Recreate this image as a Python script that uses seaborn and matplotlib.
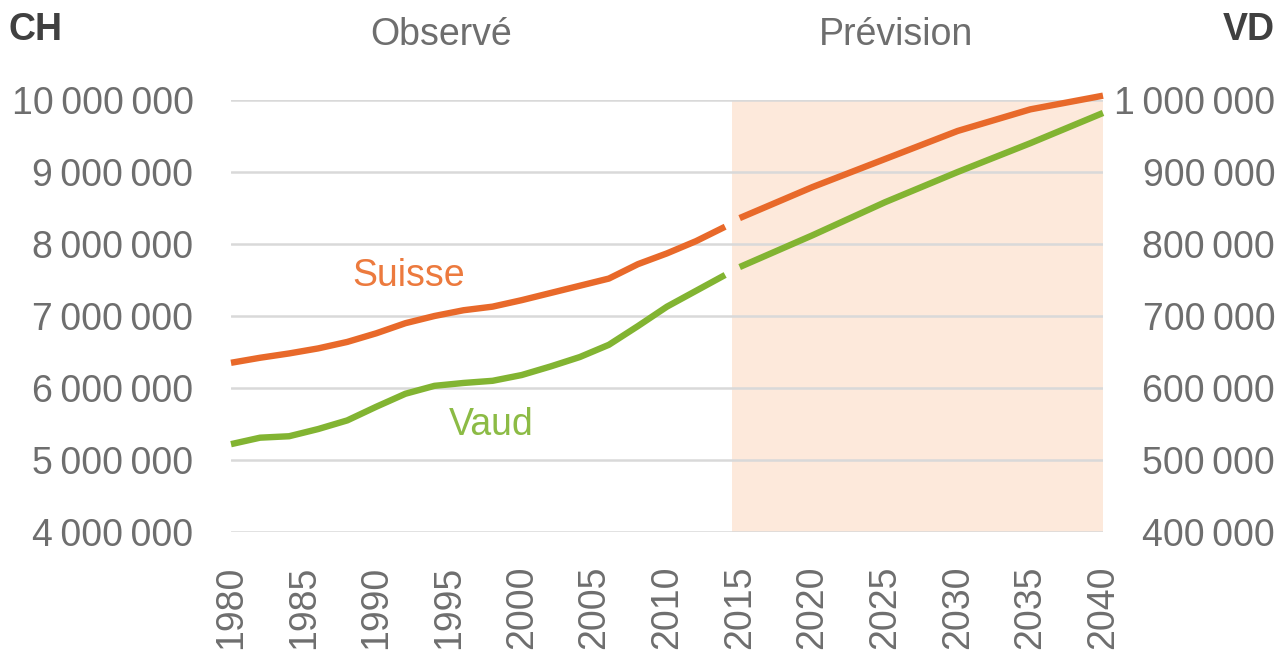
import matplotlib
matplotlib.use("Agg")
import matplotlib.pyplot as plt
from matplotlib.ticker import FuncFormatter, FixedLocator
import seaborn as sns
import pandas as pd

# ---- data -------------------------------------------------------------
obs_years = [1980, 1982, 1984, 1986, 1988, 1990, 1992, 1994, 1996, 1998,
             2000, 2002, 2004, 2006, 2008, 2010, 2012, 2014]
ch_obs = [6350000, 6420000, 6480000, 6550000, 6640000, 6760000, 6900000,
          7000000, 7080000, 7130000, 7220000, 7320000, 7420000, 7520000,
          7720000, 7870000, 8040000, 8240000]
vd_obs = [522000, 531000, 533000, 543000, 555000, 574000, 592000, 603000,
          607000, 610000, 618000, 630000, 643000, 660000, 686000, 713000,
          735000, 757000]

fc_years = [2015, 2020, 2025, 2030, 2035, 2040]
ch_fc = [8360000, 8790000, 9180000, 9570000, 9870000, 10060000]
vd_fc = [768000, 812000, 858000, 900000, 940000, 982000]

x_ticks = [1980, 1985, 1990, 1995, 2000, 2005, 2010, 2015, 2020, 2025,
           2030, 2035, 2040]
ch_ticks = [4000000, 5000000, 6000000, 7000000, 8000000, 9000000, 10000000]
vd_ticks = [400000, 500000, 600000, 700000, 800000, 900000, 1000000]

period_labels = ["Observé", "Prévision"]
series_labels = ["Suisse", "Vaud"]
axis_titles = ["CH", "VD"]

# ---- style ------------------------------------------------------------
sns.set_style("white")
plt.rcParams["font.family"] = ["Liberation Sans", "DejaVu Sans"]

ORANGE = "#E8692A"
GREEN = "#82B432"
SHADE = "#FDE9DB"
GRID = "#D9D9D9"
TXT = "#6E6E6E"
FS = 27

fig = plt.figure(figsize=(12.81, 6.58), dpi=100)
ax = fig.add_axes([231 / 1281, 1 - 532 / 658, (1103 - 231) / 1281, (532 - 100) / 658])
ax2 = ax.twinx()

df_ch_obs = pd.DataFrame({"year": obs_years, "pop": ch_obs})
df_ch_fc = pd.DataFrame({"year": fc_years, "pop": ch_fc})
df_vd_obs = pd.DataFrame({"year": obs_years, "pop": vd_obs})
df_vd_fc = pd.DataFrame({"year": fc_years, "pop": vd_fc})

ax.axvspan(2014.5, 2040, color=SHADE, zorder=0, lw=0)

for d in (df_ch_obs, df_ch_fc):
    sns.lineplot(data=d, x="year", y="pop", ax=ax, color=ORANGE, lw=4.6,
                 solid_capstyle="butt", solid_joinstyle="round", zorder=3,
                 clip_on=False)
for d in (df_vd_obs, df_vd_fc):
    sns.lineplot(data=d, x="year", y="pop", ax=ax2, color=GREEN, lw=4.6,
                 solid_capstyle="butt", solid_joinstyle="round", zorder=3,
                 clip_on=False)

ax.set_xlim(1980, 2040)
ax.set_ylim(4000000, 10000000)
ax2.set_ylim(400000, 1000000)

fmt = FuncFormatter(lambda v, p: f"{int(round(v)):,}".replace(",", "\u2009"))

ax.yaxis.set_major_locator(FixedLocator(ch_ticks))
ax.yaxis.set_major_formatter(fmt)
ax2.yaxis.set_major_locator(FixedLocator(vd_ticks))
ax2.yaxis.set_major_formatter(fmt)
ax.xaxis.set_major_locator(FixedLocator(x_ticks))
ax.set_xticklabels([str(y) for y in x_ticks], rotation=90)

ax.grid(axis="y", color=GRID, lw=1.8)
ax.grid(axis="x", visible=False)
ax.set_axisbelow(True)
ax2.grid(False)

ax.tick_params(axis="y", length=0, pad=27, labelsize=FS, labelcolor=TXT)
ax.tick_params(axis="x", length=0, pad=24, labelsize=FS, labelcolor=TXT)
ax2.tick_params(axis="y", length=0, pad=124, labelsize=FS, labelcolor=TXT)
for lab in ax2.get_yticklabels():
    lab.set_horizontalalignment("right")

for a in (ax, ax2):
    for s in a.spines.values():
        s.set_visible(False)
    a.set_xlabel("")
    a.set_ylabel("")

# annotations
ax.text(1992.2, 7560000, series_labels[0], color="#EC7A3E", fontsize=FS,
        ha="center", va="center")
ax.text(1997.9, 5490000, series_labels[1], color="#8CBB45", fontsize=FS,
        ha="center", va="center")

fig.text(441 / 1281, 1 - 35 / 658, period_labels[0], color=TXT, fontsize=FS,
         ha="center", va="center")
fig.text(896 / 1281, 1 - 35 / 658, period_labels[1], color=TXT, fontsize=FS,
         ha="center", va="center")
fig.text(8 / 1281, 1 - 30 / 658, axis_titles[0], color="#404040", fontsize=FS,
         fontweight="bold", ha="left", va="center")
fig.text(1275 / 1281, 1 - 30 / 658, axis_titles[1], color="#404040", fontsize=FS,
         fontweight="bold", ha="right", va="center")

fig.savefig("out.png", dpi=100)
